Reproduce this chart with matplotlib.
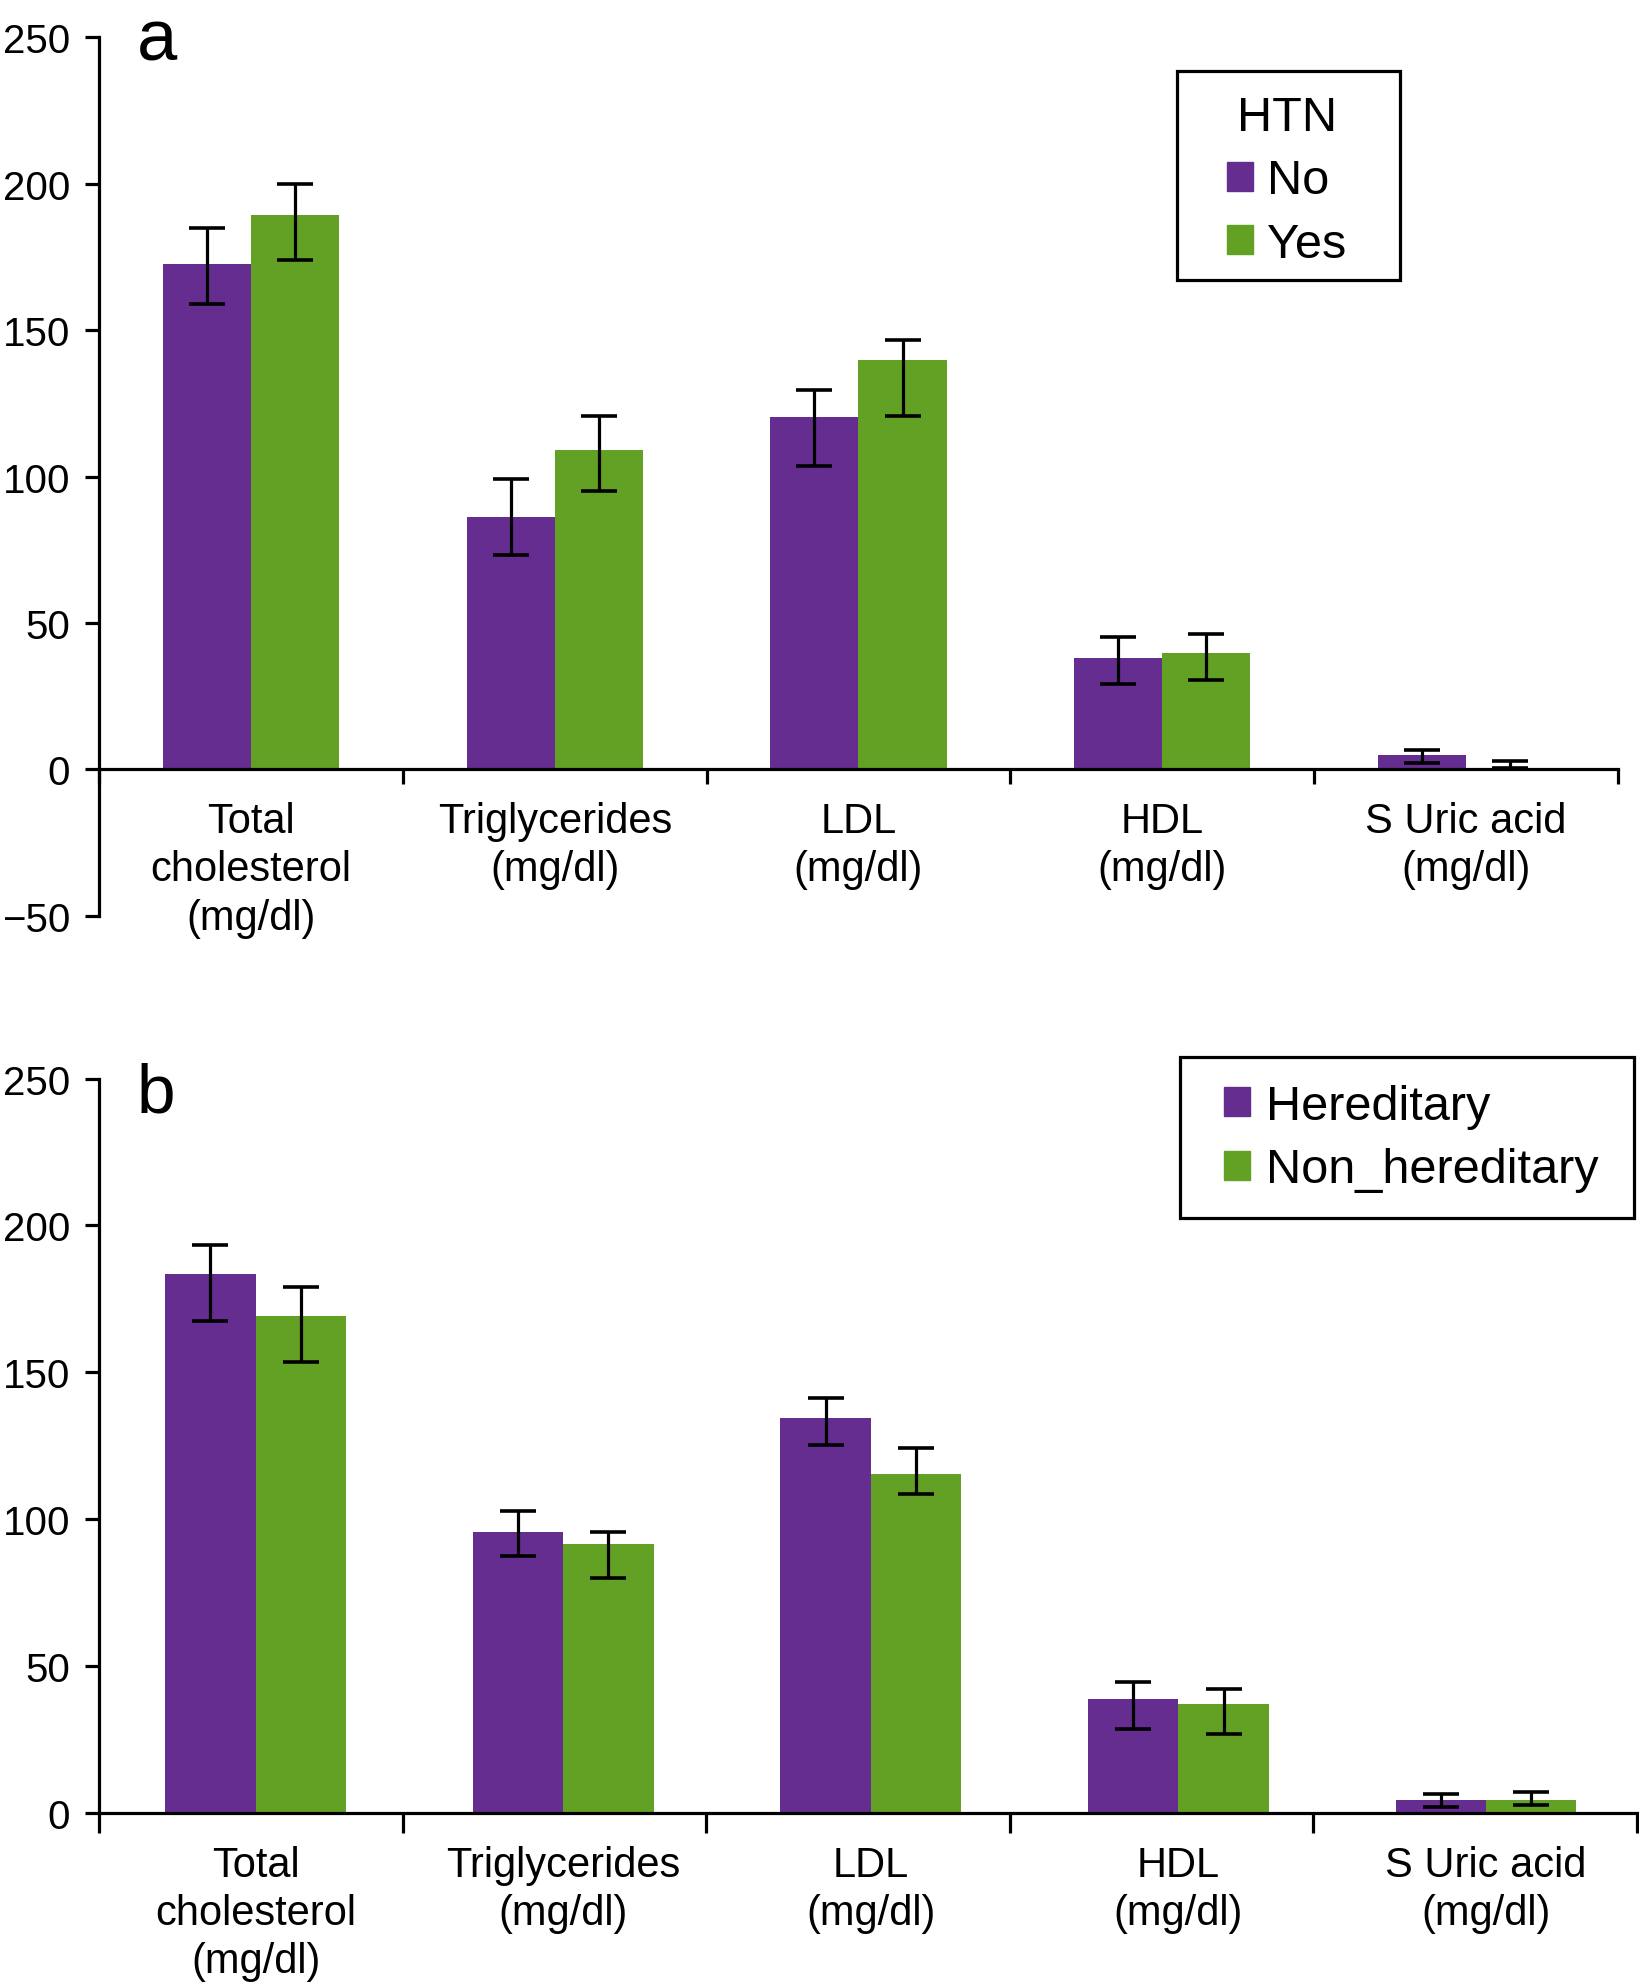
import numpy as np
import matplotlib
matplotlib.use("Agg")
import matplotlib.pyplot as plt
from matplotlib.patches import Patch, Rectangle

plt.rcParams['font.family'] = ['Liberation Sans', 'DejaVu Sans']

# ---------------- data ----------------
categories = ["Total\ncholesterol\n(mg/dl)", "Triglycerides\n(mg/dl)", "LDL\n(mg/dl)",
              "HDL\n(mg/dl)", "S Uric acid\n(mg/dl)"]

# Panel a: HTN No / Yes
a_labels = ["No", "Yes"]
a_no = [172.6, 86.1, 120.3, 37.9, 5.0]
a_no_lo = [159.1, 73.2, 103.7, 29.2, 2.2]
a_no_hi = [185.0, 99.2, 129.5, 45.1, 6.8]
a_yes = [189.2, 109.0, 139.7, 39.7, 0.2]
a_yes_lo = [174.1, 95.0, 120.7, 30.5, 0.6]
a_yes_hi = [199.9, 120.7, 146.5, 46.2, 3.0]

# Panel b: Hereditary / Non_hereditary
b_labels = ["Hereditary", "Non_hereditary"]
b_her = [183.6, 95.6, 134.5, 38.6, 4.2]
b_her_lo = [167.6, 87.3, 125.1, 28.4, 1.9]
b_her_hi = [193.2, 102.7, 141.1, 44.4, 6.5]
b_non = [169.1, 91.4, 115.5, 36.9, 4.2]
b_non_lo = [153.5, 79.8, 108.7, 26.7, 2.7]
b_non_hi = [178.9, 95.6, 124.3, 42.3, 7.0]

a_yticks = [-50, 0, 50, 100, 150, 200, 250]
b_yticks = [0, 50, 100, 150, 200, 250]

PURPLE = "#652d90"
GREEN = "#62a124"

W, H = 1640, 1983
fig = plt.figure(figsize=(W / 100, H / 100), dpi=100)


def err_from_bounds(lo, hi):
    lo = np.asarray(lo, float)
    hi = np.asarray(hi, float)
    return (lo + hi) / 2, (hi - lo) / 2


def draw_panel(ax, s1, s1lo, s1hi, s2, s2lo, s2hi, width, ylim, yticks,
               boundaries, xtick_len, label_pad, xshift=0.0):
    x = np.arange(len(categories)) + xshift
    ax.bar(x - width / 2, s1, width, color=PURPLE, zorder=2)
    ax.bar(x + width / 2, s2, width, color=GREEN, zorder=2)
    for xs, lo, hi in ((x - width / 2, s1lo, s1hi), (x + width / 2, s2lo, s2hi)):
        c, e = err_from_bounds(lo, hi)
        ax.errorbar(xs, c, yerr=e, fmt='none', ecolor='black', elinewidth=2.3,
                    capsize=13, capthick=2.6, zorder=3)
    ax.set_xlim(-0.5, len(categories) - 0.5)
    ax.set_ylim(*ylim)
    ax.set_yticks(yticks)
    ax.spines['top'].set_visible(False)
    ax.spines['right'].set_visible(False)
    ax.spines['bottom'].set_position(('data', 0))
    for s in ('left', 'bottom'):
        ax.spines[s].set_linewidth(2.3)
    ax.set_xticks(x)
    ax.set_xticklabels(categories, fontsize=30, linespacing=1.26)
    ax.set_xticks(boundaries, minor=True)
    ax.tick_params(axis='x', which='major', length=0, pad=label_pad)
    ax.tick_params(axis='x', which='minor', length=xtick_len, width=2.3, direction='out')
    ax.tick_params(axis='y', length=10, width=2.3, labelsize=29, pad=11, direction='out')


# Panel a
ax_a = fig.add_axes([99.4 / W, 1 - 916.9 / H, (1617.6 - 99.4) / W, (916.9 - 38.3) / H])
bounds_a = np.arange(len(categories) + 1) - 0.5
draw_panel(ax_a, a_no, a_no_lo, a_no_hi, a_yes, a_yes_lo, a_yes_hi, 0.29,
           (-50, 250), a_yticks, bounds_a, 11, 23)

# Panel b (bar groups spread slightly wider than the boundary ticks)
ax_b = fig.add_axes([99.4 / W, 1 - 1813.8 / H, (1637.4 - 99.4) / W, (1813.8 - 1079.6) / H])
bounds_b = list(-0.5 + np.arange(len(categories)) * 0.9864) + [len(categories) - 0.5]
draw_panel(ax_b, b_her, b_her_lo, b_her_hi, b_non, b_non_lo, b_non_hi, 0.294,
           (0, 250), b_yticks, bounds_b, 14.5, 23, xshift=0.008)

# Panel letters
fig.text(137 / W, 1 - 60.6 / H, "a", fontsize=52, va='baseline', ha='left')
fig.text(137 / W, 1 - 1112.9 / H, "b", fontsize=50, va='baseline', ha='left')

# Legends
handles_a = [Patch(color=PURPLE), Patch(color=GREEN)]
leg_a = fig.legend(handles_a, a_labels, title="HTN", loc='upper left',
                   bbox_to_anchor=(1226.9 / W, 1 - 96 / H), frameon=False,
                   fontsize=35, title_fontsize=35, handlelength=0.53, handleheight=0.53,
                   handletextpad=0.3, labelspacing=0.38, borderpad=0, borderaxespad=0)
fig.add_artist(Rectangle((1177 / W, 1 - 281 / H), (1400.5 - 1177) / W, (281 - 72) / H,
                         transform=fig.transFigure, fill=False, ec='black', lw=2.3))

handles_b = [Patch(color=PURPLE), Patch(color=GREEN)]
leg_b = fig.legend(handles_b, b_labels, loc='upper left',
                   bbox_to_anchor=(1223.8 / W, 1 - 1085 / H), frameon=False,
                   fontsize=35, handlelength=0.53, handleheight=0.53,
                   handletextpad=0.33, labelspacing=0.38, borderpad=0, borderaxespad=0)
fig.add_artist(Rectangle((1179.8 / W, 1 - 1219.4 / H), (1634.3 - 1179.8) / W, (1219.4 - 1058.3) / H,
                         transform=fig.transFigure, fill=False, ec='black', lw=2.3))

fig.savefig("out.png", dpi=100)
